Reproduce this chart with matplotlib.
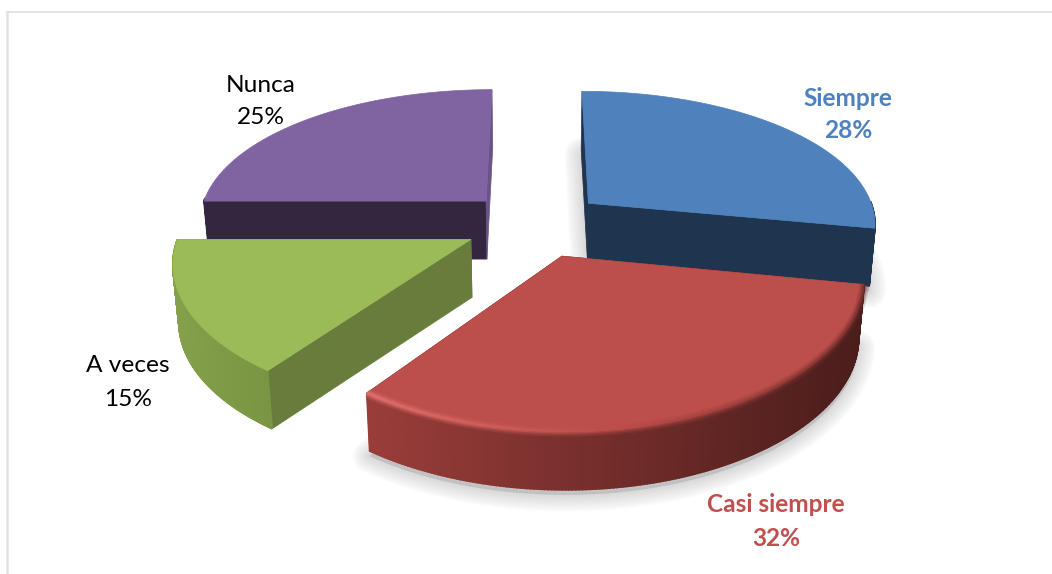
import numpy as np
import matplotlib
matplotlib.use("Agg")
import matplotlib.pyplot as plt
from matplotlib.colors import to_rgb

# pie data
labels = ["Siempre", "Casi siempre", "A veces", "Nunca"]
values = [28, 32, 15, 25]
pct_text = ["28%", "32%", "15%", "25%"]
top_cols = ["#4F81BD", "#BC4E4B", "#9BBB59", "#8064A2"]
flat_cols = ["#1F344F", "#4E1F1D", "#687C3B", "#33273F"]
start_cols = ["#1F344F", "#4E1F1D", "#687C3B", "#33273F"]
end_cols = ["#1F344F", "#4E1F1D", "#687C3B", "#6B5388"]
arc_left = ["#1F344F", "#9A3D3A", "#84A04A", "#33273F"]
arc_right = ["#1F344F", "#4A1D1B", "#7A9543", "#33273F"]
text_cols = ["#4F81BD", "#C0504D", "black", "black"]
text_weight = ["bold", "bold", "normal", "normal"]
text_x = [848, 776, 128, 261]
text_y = [98, 505, 366, 85]

# fake 3d camera
vx, y0, hy = 535, 224, 850
A, kx, ky, depth, explode = 289, 0.14, 0.16, 58, 0.245
draw_order = [3, 0, 2, 1]

def project(X, Y, z=0):
    sx = vx + A*np.asarray(X)/(1 - kx*np.asarray(Y))*(1 - 0.017*z)
    sy = y0 + hy*(1/(1 - ky*np.asarray(Y)) - 1) + depth*z
    return sx, sy

def lerp(c1, c2, t):
    return tuple((1-t)*np.array(to_rgb(c1)) + t*np.array(to_rgb(c2)))

plt.rcParams['font.family'] = ['Lato', 'DejaVu Sans']
fig = plt.figure(figsize=(10.52, 5.74), dpi=100)
ax = fig.add_axes([0, 0, 1, 1])
ax.set_xlim(0, 1052)
ax.set_ylim(574, 0)
ax.axis("off")

# chart frame, only top and left show
ax.plot([6.5, 6.5], [574, 12], color="#E2E2E2", lw=1.8)
ax.plot([6.5, 1052], [12, 12], color="#DDDDDD", lw=1.1)

edges = np.concatenate(([0], np.cumsum(values)))/np.sum(values)*2*np.pi

for i in draw_order:
    th = np.linspace(edges[i], edges[i+1], 200)
    mid = (edges[i] + edges[i+1])/2
    ex, ey = explode*np.sin(mid), -explode*np.cos(mid)
    X = ex + np.sin(th)
    Y = ey - np.cos(th)
    tx, ty = project(X, Y)
    bx, by = project(X, Y, 1)
    ax_, ay_ = project(ex, ey)
    cx_, cy_ = project(ex, ey, 1)
    z = 2 + draw_order.index(i)

    # soft shadow under the front slices
    if i in (0, 1):
        sx = np.concatenate(([cx_], bx))
        sy = np.concatenate(([cy_], by)) + 5
        for lw in np.linspace(24, 2, 12):
            ax.fill(sx, sy, color="#999999", alpha=0.03, lw=lw, joinstyle="round", zorder=1+i*0.01)

    # flat cut walls
    ax.fill([ax_, tx[0], bx[0], cx_], [ay_, ty[0], by[0], cy_], color=start_cols[i], lw=0.5, zorder=z)
    ax.fill([ax_, tx[-1], bx[-1], cx_], [ay_, ty[-1], by[-1], cy_], color=end_cols[i], lw=0.5, zorder=z)

    # outer wall strips, shaded left to right, back facing ones skipped
    for j in range(len(th)-1):
        if np.cos(th[j]) > 0.02:
            continue
        t = np.clip((tx[j] - tx.min())/(tx.max() - tx.min() + 1e-6), 0, 1)
        ax.fill([tx[j], tx[j+1], bx[j+1], bx[j]], [ty[j], ty[j+1], by[j+1], by[j]],
                color=lerp(arc_left[i], arc_right[i], t), lw=1.2, zorder=z)

    # top face
    ax.fill(np.concatenate(([ax_], tx)), np.concatenate(([ay_], ty)), color=top_cols[i], lw=0.5, zorder=z+0.5)

    # bevel on the red slice, bright on the left and dark on the right
    if i == 1:
        for lw, alpha in [(7, 0.2), (4.5, 0.3), (2.5, 0.5)]:
            for j in range(len(th)-1):
                t = (tx[j] - tx.min())/(tx.max() - tx.min())
                if t < 0.5:
                    c = lerp("#F07C78", top_cols[i], t/0.5)
                else:
                    c = lerp(top_cols[i], "#6A2A28", (t - 0.5)/0.5)
                ax.plot(tx[j:j+2], ty[j:j+2], color=c, lw=lw, alpha=alpha, solid_capstyle="butt", zorder=z+0.6)

for i in range(len(labels)):
    ax.text(text_x[i], text_y[i], labels[i], color=text_cols[i], fontweight=text_weight[i],
            fontsize=17.6, ha="center", va="center", zorder=20)
    ax.text(text_x[i], text_y[i]+33, pct_text[i], color=text_cols[i], fontweight=text_weight[i],
            fontsize=17.6, ha="center", va="center", zorder=20)

fig.savefig("out.png", dpi=100)
